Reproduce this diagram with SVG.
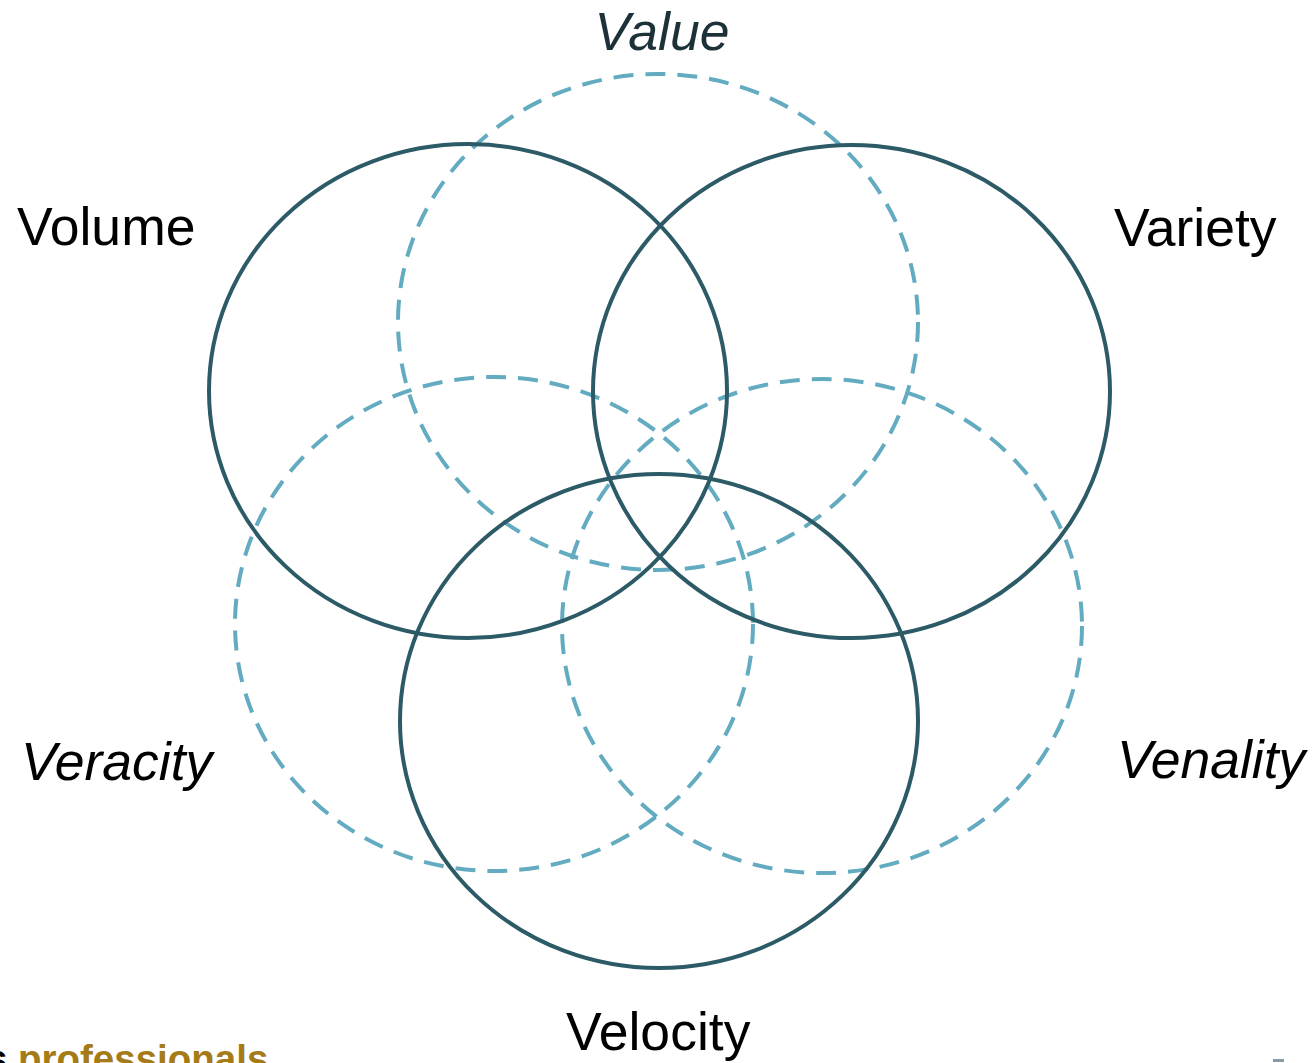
<svg xmlns="http://www.w3.org/2000/svg" width="1313" height="1063" viewBox="0 0 1313 1063">
<style>
.solid{fill:none;stroke:#2c5a66;stroke-width:4}
.dash{fill:none;stroke:#63abc0;stroke-width:4;stroke-dasharray:20 12}
.lbl{font-family:"Liberation Sans",Arial,sans-serif;font-size:53.5px;fill:#000}
.it{font-style:italic}
</style>
<rect width="1313" height="1063" fill="#fff"/>
<g id="connectors"></g>
<g id="value"><ellipse class="dash" cx="658" cy="322" rx="260" ry="248"/></g>
<g id="veracity"><ellipse class="dash" cx="494" cy="624" rx="259" ry="247"/></g>
<g id="venality"><ellipse class="dash" cx="822" cy="626" rx="260" ry="247"/></g>
<g id="volume"><ellipse class="solid" cx="468" cy="391" rx="259" ry="247"/></g>
<g id="variety"><ellipse class="solid" cx="851.5" cy="391.5" rx="258.5" ry="246.5"/></g>
<g id="velocity"><ellipse class="solid" cx="659" cy="721" rx="259" ry="247"/></g>
<g id="labels">
<text class="lbl it" x="662" y="50" text-anchor="middle" style="fill:#1d3139">Value</text>
<text class="lbl" x="17" y="245">Volume</text>
<text class="lbl" x="1114" y="246">Variety</text>
<text class="lbl it" x="21" y="780">Veracity</text>
<text class="lbl it" x="1117" y="778">Venality</text>
<text class="lbl" x="566" y="1050">Velocity</text>
</g>
<g id="footer">
<text x="-14" y="1072" font-family="Liberation Sans,Arial,sans-serif" font-size="38.5" font-weight="bold" fill="#000">s</text>
<text x="18" y="1072" font-family="Liberation Sans,Arial,sans-serif" font-size="38.5" font-weight="bold" fill="#a57b17">professionals</text>
<rect x="1273" y="1059" width="11" height="3" fill="#8a9aa3"/>
</g>
</svg>
